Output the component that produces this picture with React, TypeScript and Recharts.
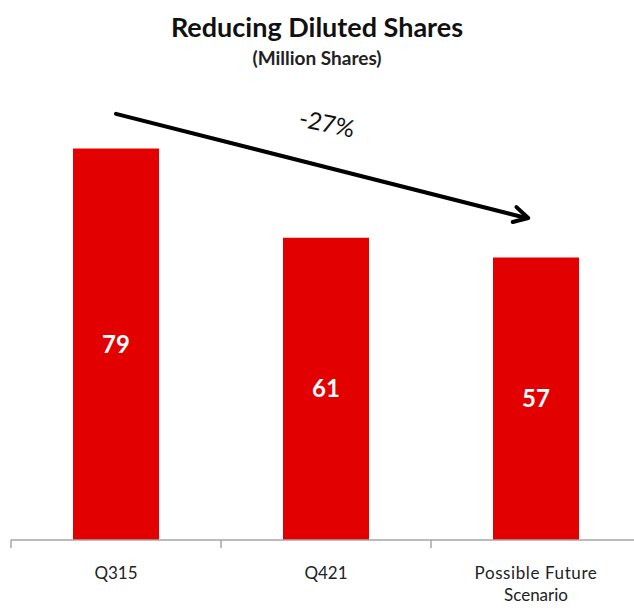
import React from "react"
import { BarChart, Bar, XAxis, YAxis, LabelList, ReferenceLine } from "recharts"

const categories = ["Q315", "Q421", "Possible Future Scenario"]
const shares = [79, 61, 57]
const trendStart = 86
const trendEnd = 65
const trendLabel = "-27%"

const data = categories.map((name, i) => ({ name, shares: shares[i] }))

const FONT = "Lato, 'Open Sans', sans-serif"
const CHART_W = 660
const MARGIN = { top: 94, right: 19, left: 11, bottom: 10 }
const BAND = (CHART_W - MARGIN.left - MARGIN.right) / categories.length

function CategoryTick(props: any) {
  const { x, y, payload } = props
  const words = String(payload.value).split(" ")
  const lines = words.length > 2 ? [words.slice(0, -1).join(" "), words[words.length - 1]] : [payload.value]
  const left = x - BAND / 2
  return (
    <g>
      <line x1={left} y1={y - 8} x2={left} y2={y} stroke="#a6a6a6" strokeWidth={1.5} />
      <text x={x} y={y + 31} textAnchor="middle" fontFamily={FONT} fontSize={17} fill="#222">
        {lines.map((l: string, i: number) => (
          <tspan key={i} x={x} dy={i === 0 ? 0 : 22} letterSpacing={i === 0 && lines.length > 1 ? 0.6 : 0}>
            {l}
          </tspan>
        ))}
      </text>
    </g>
  )
}

function TrendArrow(props: any) {
  const { x1, y1 } = props
  const ang = Math.atan2(props.y2 - y1, props.x2 - x1)
  // stop the arrow a little short of the last bar's centre
  const x2 = props.x2 - 8 * Math.cos(ang)
  const y2 = props.y2 - 8 * Math.sin(ang) + 2
  const head = 16
  const spread = 0.5
  const hx1 = x2 - head * Math.cos(ang - spread)
  const hy1 = y2 - head * Math.sin(ang - spread)
  const hx2 = x2 - head * Math.cos(ang + spread)
  const hy2 = y2 - head * Math.sin(ang + spread)
  const mx = (x1 + x2) / 2
  const my = (y1 + y2) / 2
  return (
    <g>
      <line x1={x1} y1={y1} x2={x2 - 2} y2={y2} stroke="#000" strokeWidth={4} strokeLinecap="round" />
      <polyline
        points={`${hx1},${hy1} ${x2},${y2} ${hx2},${hy2}`}
        fill="none"
        stroke="#000"
        strokeWidth={4}
        strokeLinecap="round"
        strokeLinejoin="round"
      />
      <text
        x={mx + 3}
        y={my - 34}
        textAnchor="middle"
        fontFamily={FONT}
        fontSize={24}
        fill="#111"
        transform={`rotate(12 ${mx + 3} ${my - 34})`}
      >
        {trendLabel}
      </text>
    </g>
  )
}

export default function App() {
  return (
    <div style={{ position: "absolute", left: 0, top: 0, width: 634, height: 610, overflow: "hidden", background: "#fff" }}>
      <div
        style={{
          position: "absolute",
          top: 10,
          left: 0,
          width: 634,
          textAlign: "center",
          fontFamily: FONT,
          fontWeight: 700,
          fontSize: 27,
          color: "#111",
        }}
      >
        Reducing Diluted Shares
      </div>
      <div
        style={{
          position: "absolute",
          top: 46,
          left: 0,
          width: 634,
          textAlign: "center",
          fontFamily: FONT,
          fontWeight: 700,
          fontSize: 19,
          color: "#222",
        }}
      >
        (Million Shares)
      </div>
      <BarChart width={CHART_W} height={610} data={data} margin={MARGIN}>
        <XAxis
          dataKey="name"
          height={60}
          axisLine={{ stroke: "#a6a6a6", strokeWidth: 1.5 }}
          tickLine={false}
          tick={<CategoryTick />}
          interval={0}
        />
        <YAxis hide domain={[0, 90]} />
        <Bar dataKey="shares" fill="#e30000" barSize={86} isAnimationActive={false}>
          <LabelList dataKey="shares" position="center" fill="#fff" fontFamily={FONT} fontWeight={700} fontSize={24} />
        </Bar>
        <ReferenceLine
          segment={[
            { x: categories[0], y: trendStart },
            { x: categories[2], y: trendEnd },
          ]}
          ifOverflow="visible"
          shape={<TrendArrow />}
        />
      </BarChart>
    </div>
  )
}
